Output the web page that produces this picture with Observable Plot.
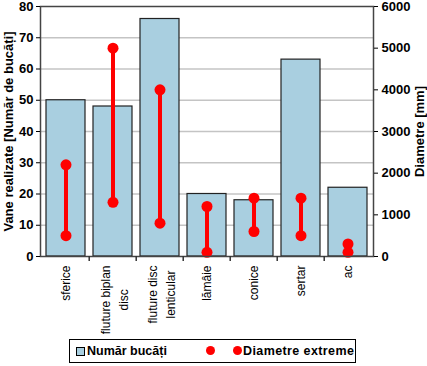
<!DOCTYPE html>
<html>
<head>
<meta charset="utf-8">
<script src="https://cdn.jsdelivr.net/npm/d3@7"></script>
<script src="https://cdn.jsdelivr.net/npm/@observablehq/plot@0.6"></script>
<style>
  html, body { margin: 0; padding: 0; background: #fff; }
  #wrap { position: relative; width: 427px; height: 366px; font-family: "Liberation Sans", Arial, sans-serif; }
  #legend { position: absolute; left: 69px; top: 339px; width: 287px; height: 24px; border: 1px solid #000; box-sizing: border-box; font-weight: bold; font-size: 12.5px; }
  #legend .it { position: absolute; top: 4px; white-space: nowrap; }
  #legend .sq { position: absolute; top: 7px; width: 7px; height: 7px; border: 1px solid #000; background: #a9cfe0; }
  #legend .dot { position: absolute; top: 6px; width: 9px; height: 9px; border-radius: 50%; background: #ff0000; }
</style>
</head>
<body>
<div id="wrap">
  <div id="chart"></div>
  <div id="legend">
    <div class="sq" style="left:6px"></div>
    <div class="it" style="left:17px">Număr bucăți</div>
    <div class="dot" style="left:136px"></div>
    <div class="dot" style="left:163px"></div>
    <div class="it" style="left:173px; letter-spacing:0.4px">Diametre extreme</div>
  </div>
</div>
<script>
const categories = ["sferice", "fluture biplan\ndisc", "fluture disc\nlenticular", "lămâie", "conice", "sertar", "ac"];
const counts = [50, 48, 76, 20, 18, 63, 22];
const diamMin = [500, 1300, 800, 100, 600, 500, 100];
const diamMax = [2200, 5000, 4000, 1200, 1400, 1400, 300];
const leftTicks = [0, 10, 20, 30, 40, 50, 60, 70, 80];
const rightTicks = [0, 1000, 2000, 3000, 4000, 5000, 6000];
const ratio = 6000 / 80;

const data = categories.map((c, i) => ({cat: c, n: counts[i], lo: diamMin[i] / ratio, hi: diamMax[i] / ratio}));
const dots = data.flatMap(d => [{cat: d.cat, v: d.lo}, {cat: d.cat, v: d.hi}]);

const W = 427, H = 336, mL = 40, mR = 54, mT = 6, mB = 80;
const labelFont = 12, labelFamily = "Liberation Sans, Arial, sans-serif", labelPad = 9;

const ctx = document.createElement("canvas").getContext("2d");
ctx.font = `${labelFont}px ${labelFamily}`;
const textLen = s => Math.max(...s.split("\n").map(l => ctx.measureText(l).width));

const singles = categories.filter(c => !c.includes("\n"));
const multis = categories.filter(c => c.includes("\n"));

const chart = Plot.plot({
  width: W, height: H,
  marginLeft: mL, marginRight: mR, marginTop: mT, marginBottom: mB,
  style: {fontFamily: labelFamily, fontSize: "12px", background: "#fff", color: "#000"},
  x: {type: "band", domain: categories, paddingInner: 0.18, paddingOuter: 0.06, label: null},
  y: {domain: [0, 80], label: null},
  marks: [
    Plot.gridY(leftTicks.slice(1, -1), {stroke: "#c4c4c4", strokeOpacity: 1, strokeWidth: 1.5}),
    Plot.barY(data, {x: "cat", y: "n", fill: "#a9cfe0", stroke: "#222", strokeWidth: 1.2}),
    Plot.ruleX(data, {x: "cat", y1: "lo", y2: "hi", stroke: "#ff0000", strokeWidth: 4}),
    Plot.dot(dots, {x: "cat", y: "v", r: 5.5, fill: "#ff0000", stroke: "none"}),
    Plot.frame({stroke: "#444", strokeWidth: 1.5}),
    Plot.axisY(leftTicks, {anchor: "left", tickSize: 4, tickPadding: 3, fontWeight: "bold", fontSize: 13,
      label: "Vane realizate [Număr de bucăți]", labelAnchor: "center", labelArrow: "none", labelOffset: 37}),
    Plot.axisY(rightTicks.map(v => v / ratio), {anchor: "right", tickSize: 4, tickPadding: 4, fontWeight: "bold", fontSize: 13,
      tickFormat: d => String(Math.round(d * ratio)),
      label: "Diametre [mm]", labelAnchor: "center", labelArrow: "none", labelOffset: 50}),
    Plot.axisX(singles, {tickSize: 0, tickRotate: -90, tickPadding: labelPad, fontSize: labelFont}),
    ...multis.map(c => Plot.text([c], {x: d => d, text: d => d, frameAnchor: "bottom", rotate: -90,
      textAnchor: "middle", lineAnchor: "middle", lineHeight: 1.5, fontSize: labelFont, fill: "#000",
      dy: labelPad + textLen(c) / 2})),
    Plot.ruleX(categories.slice(1), {x: d => d, dx: -(W - mL - mR) / categories.length / 2, insetTop: H - mT - mB, insetBottom: -5, stroke: "#333", strokeWidth: 1.5})
  ]
});
document.getElementById("chart").appendChild(chart);
</script>
</body>
</html>
